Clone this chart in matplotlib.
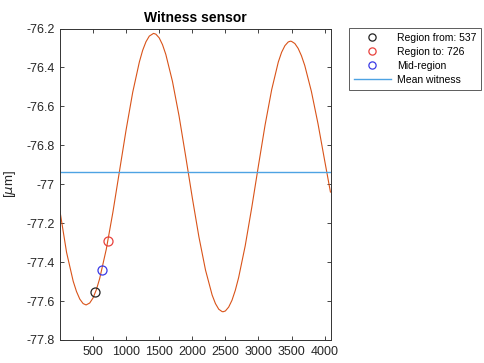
import numpy as np
import matplotlib
matplotlib.use("Agg")
import matplotlib.pyplot as plt
from matplotlib.ticker import FuncFormatter

plt.rcParams['font.family'] = ['Liberation Sans', 'DejaVu Sans']

# witness sensor signal (sample index, um)
sample = [1, 100, 200, 250, 300, 350, 395, 450, 500, 550, 600, 700, 800,
          900, 1000, 1100, 1200, 1250, 1300, 1350, 1414, 1450, 1500, 1550,
          1600, 1700, 1800, 1900, 2000, 2100, 2200, 2300, 2350, 2400, 2450,
          2465, 2500, 2550, 2600, 2650, 2700, 2800, 2900, 3000, 3100, 3200,
          3300, 3350, 3400, 3450, 3483, 3500, 3550, 3600, 3650, 3700, 3800,
          3900, 4000, 4088]
witness = [-77.14, -77.350, -77.498, -77.551, -77.590, -77.613, -77.620,
           -77.610, -77.584, -77.542, -77.485, -77.334, -77.144, -76.932,
           -76.720, -76.527, -76.372, -76.312, -76.268, -76.239, -76.225,
           -76.229, -76.248, -76.283, -76.333, -76.471, -76.649, -76.856,
           -77.069, -77.270, -77.441, -77.569, -77.613, -77.642, -77.654,
           -77.655, -77.651, -77.631, -77.596, -77.545, -77.480, -77.316,
           -77.117, -76.904, -76.696, -76.514, -76.372, -76.322, -76.288,
           -76.269, -76.265, -76.266, -76.277, -76.302, -76.340, -76.390,
           -76.523, -76.689, -76.877, -77.040]

region_from = 537
region_to = 726
from_val = -77.553
to_val = -77.289
mid_val = -77.443
mean_witness = -76.935

fig = plt.figure(figsize=(4.84, 3.63), dpi=100)
ax = fig.add_axes([0.124, 0.0634, 0.559, 0.858])

ax.plot(sample, witness, color="#D95319", lw=0.8)
ax.plot(region_from, from_val, "o", mfc="none", mec="#222222", ms=6.5, mew=0.9,
        label=f"Region from: {region_from}")
ax.plot(region_to, to_val, "o", mfc="none", mec="#E8413C", ms=6.5, mew=0.9,
        label=f"Region to: {region_to}")
ax.plot((region_from + region_to) / 2, mid_val, "o", mfc="none", mec="#3A3AE6",
        ms=6.5, mew=0.9, label="Mid-region")
ax.axhline(mean_witness, color="#4DA3E3", lw=1.0, label="Mean witness")

ax.set_xlim(1, 4090)
ax.set_ylim(-77.8, -76.2)
ax.set_xticks(np.arange(500, 4001, 500))
ax.set_yticks(np.arange(-77.8, -76.19, 0.2))
ax.yaxis.set_major_formatter(FuncFormatter(lambda v, p: f"{v:g}" if abs(v - round(v)) > 1e-6 else f"{round(v):d}"))
ax.tick_params(direction="in", length=3, width=0.6, top=True, right=True,
               labelsize=9, colors="#262626", pad=4)
for s in ax.spines.values():
    s.set_color("#333333")
    s.set_linewidth(0.7)

ax.set_ylabel(r"[$\mu$m]", fontsize=9.5, color="#262626", labelpad=6)
ax.set_title("Witness sensor", fontsize=10, fontweight="bold", pad=5)

leg = fig.legend(loc="upper left", bbox_to_anchor=(0.721, 0.923), fontsize=7.5,
                 frameon=True, fancybox=False, edgecolor="#333333",
                 handlelength=3.6, handletextpad=0.6, labelspacing=0.4,
                 borderpad=0.45, borderaxespad=0, markerscale=0.8)
leg.get_frame().set_linewidth(0.7)

fig.savefig("out.png", dpi=100)
